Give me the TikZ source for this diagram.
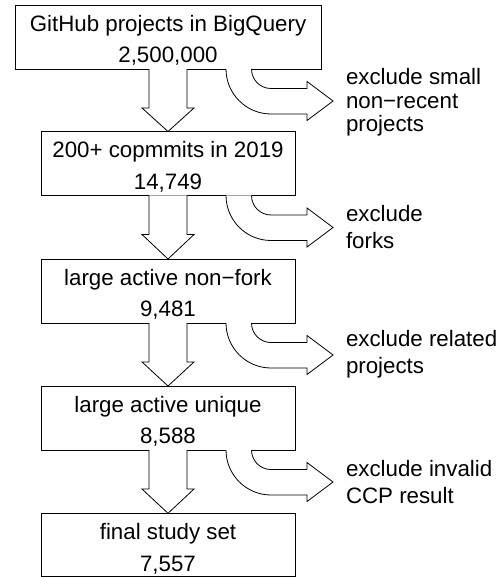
\documentclass[tikz,border=0pt]{standalone}
\usepackage{fontspec}
\setmainfont{Liberation Sans}
\usetikzlibrary{calc}
\begin{document}
\begin{tikzpicture}[x=1pt,y=-1pt,
  box/.style={draw, line width=0.8pt, inner sep=0pt, outer sep=0pt, minimum height=64pt},
  txt/.style={inner sep=0pt, outer sep=0pt, anchor=base, font=\fontsize{22.3}{26}\selectfont},
  lbl/.style={txt, anchor=base west},
  arr/.style={draw, line width=0.8pt, fill=white, line join=miter}]
\useasboundingbox (0,0) rectangle (502,577);

% boxes
\node[box, minimum width=306pt] (b1) at (168,37) {};
\node[box, minimum width=254pt] (b2) at (168,163.5) {};
\node[box, minimum width=254pt] (b3) at (168,291) {};
\node[box, minimum width=254pt] (b4) at (168,418) {};
\node[box, minimum width=254pt, minimum height=63pt] (b5) at (168,544.8) {};

% box texts
\node[txt] (t1a) at ($(b1.north)+(0,26.5)$) {GitHub projects in BigQuery};
\node[txt] (t1b) at ($(b1.north)+(0,57.8)$) {2,500,000};
\node[txt] (t2a) at ($(b2.north)+(0,26.5)$) {200+ copmmits in 2019};
\node[txt] (t2b) at ($(b2.north)+(0,57.8)$) {14,749};
\node[txt] (t3a) at ($(b3.north)+(0,26.5)$) {large active non−fork};
\node[txt] (t3b) at ($(b3.north)+(0,57.8)$) {9,481};
\node[txt] (t4a) at ($(b4.north)+(0,26.5)$) {large active unique};
\node[txt] (t4b) at ($(b4.north)+(0,57.8)$) {8,588};
\node[txt] (t5a) at ($(b5.north)+(0,26.5)$) {final study set};
\node[txt] (t5b) at ($(b5.north)+(0,57.8)$) {7,557};

% down arrows
\foreach \a/\b in {b1/b2, b2/b3, b3/b4, b4/b5}{
  \path[arr] ($(\a.south)+(-19,0)$) -- ($(\a.south)+(-19,39)$) -- ($(\a.south)+(-26,39)$)
    -- (\b.north) -- ($(\a.south)+(26,39)$) -- ($(\a.south)+(19,39)$) -- ($(\a.south)+(19,0)$);
}

% curved exclusion arrows
\foreach \a in {b1,b2,b3,b4}{
  \coordinate (o-\a) at ($(\a.south)+(58,0)$);
  \path[arr] (o-\a) .. controls ($(o-\a)+(0,24.8)$) and ($(o-\a)+(20.2,45)$) .. ($(o-\a)+(45,45)$)
    -- ($(o-\a)+(81,45)$) -- ($(o-\a)+(81,51.5)$) -- ($(o-\a)+(107,32)$) -- ($(o-\a)+(81,12.5)$)
    -- ($(o-\a)+(81,19.5)$) -- ($(o-\a)+(45,19.5)$)
    .. controls ($(o-\a)+(34.2,19.5)$) and ($(o-\a)+(25.5,10.8)$) .. ($(o-\a)+(25.5,0)$);
}

% labels
\node[lbl] (l1a) at (346,85) {exclude small};
\node[lbl] (l1b) at (346,108.3) {non−recent};
\node[lbl] (l1c) at (346,131.7) {projects};
\node[lbl] (l2a) at (346,221.7) {exclude};
\node[lbl] (l2b) at (346,248.3) {forks};
\node[lbl] (l3a) at (346,346.7) {exclude related};
\node[lbl] (l3b) at (346,373.3) {projects};
\node[lbl] (l4a) at (346,476.7) {exclude invalid};
\node[lbl] (l4b) at (346,503.3) {CCP result};
\end{tikzpicture}
\end{document}
